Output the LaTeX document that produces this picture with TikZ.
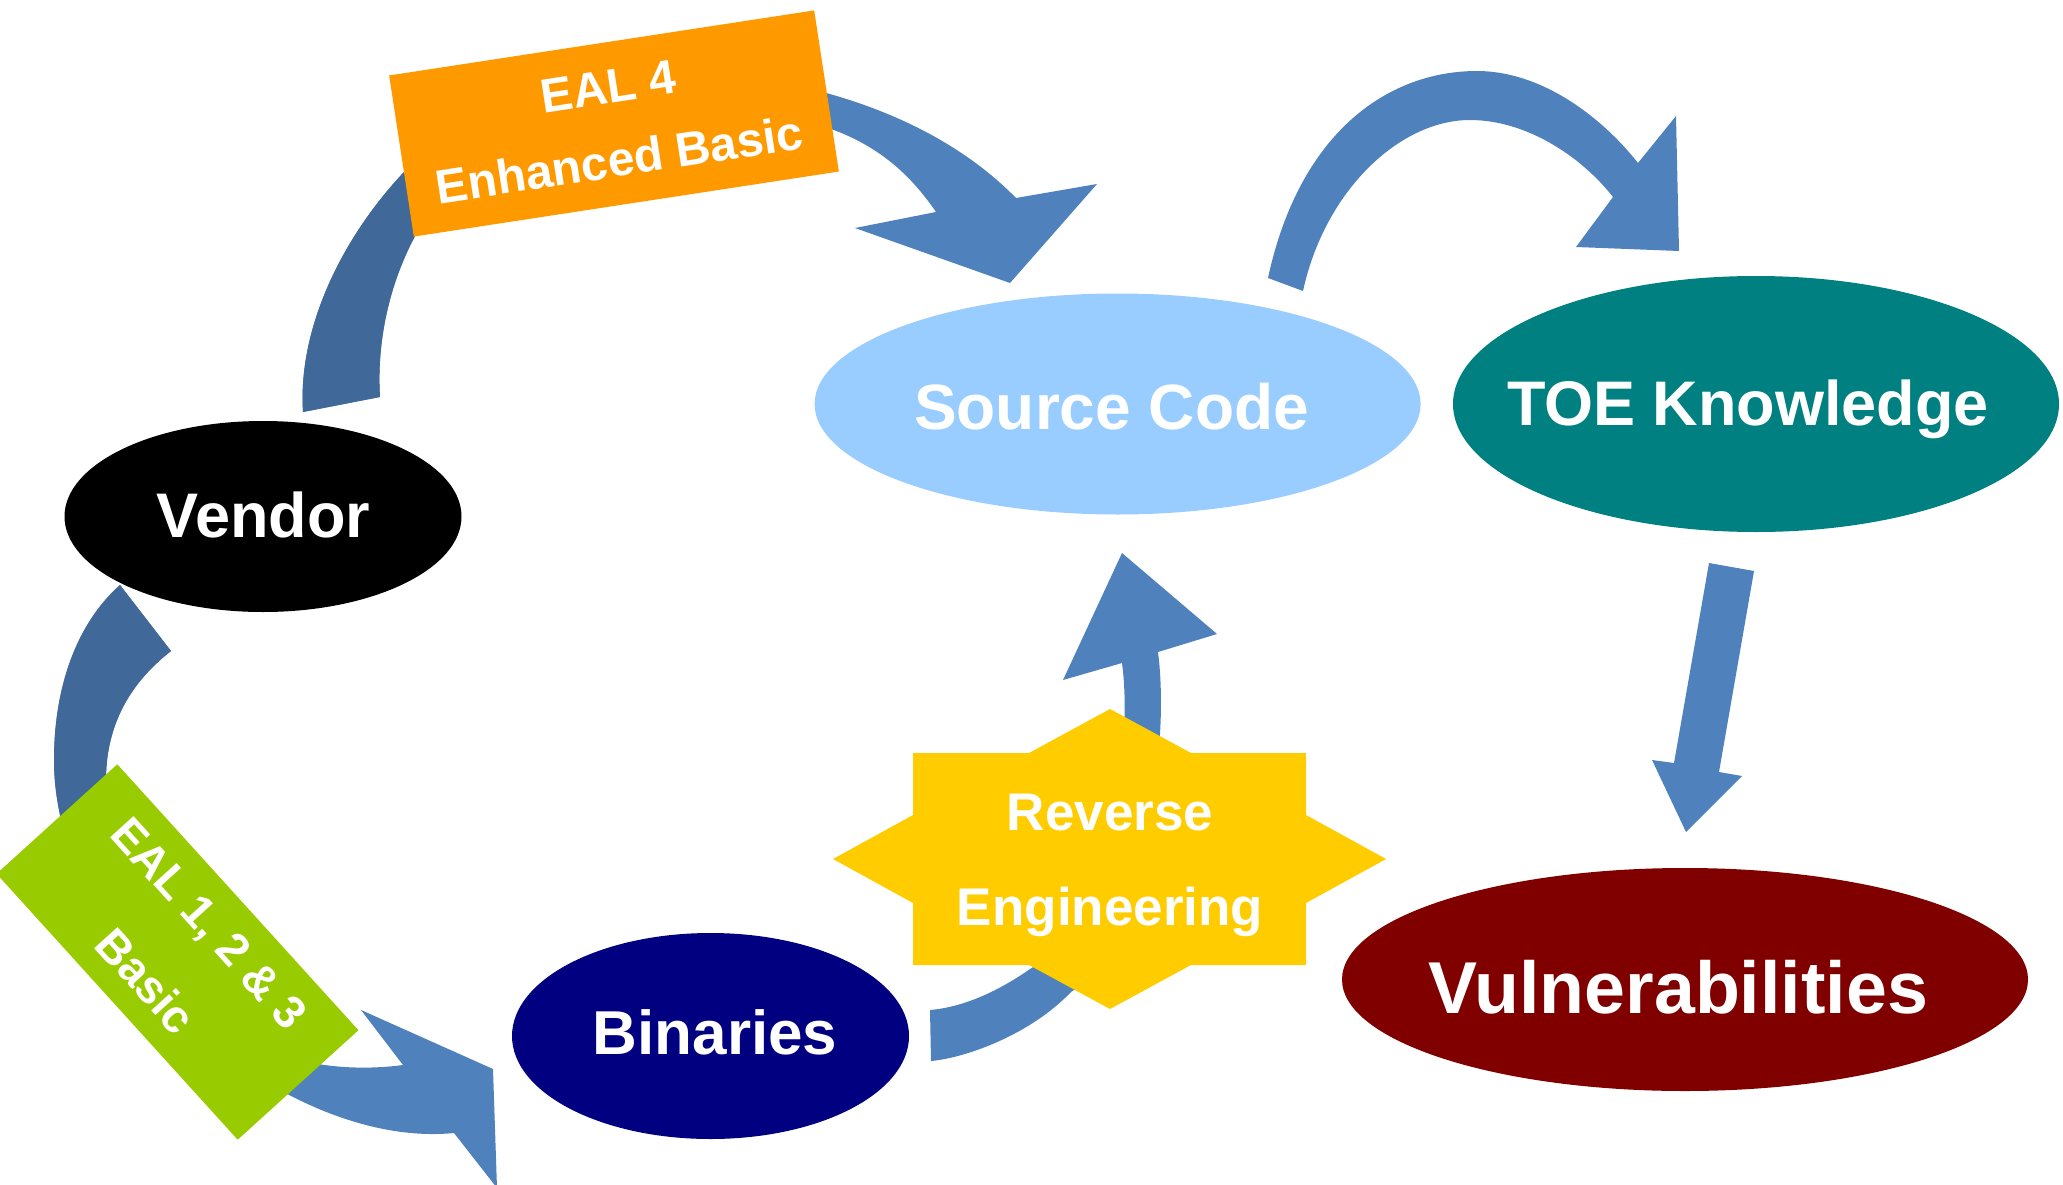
\documentclass[tikz,border=0pt]{standalone}
\usepackage{fontspec}
\setmainfont{Liberation Sans}
\usetikzlibrary{shapes.geometric}
\definecolor{arrowblue}{HTML}{4F81BD}
\definecolor{arrowdark}{HTML}{406898}
\definecolor{eorange}{HTML}{FF9900}
\definecolor{egreen}{HTML}{99CC00}
\definecolor{starY}{HTML}{FFCC00}
\definecolor{srcblue}{HTML}{99CCFF}
\definecolor{toeteal}{HTML}{008080}
\definecolor{vulnred}{HTML}{800000}
\definecolor{binnavy}{HTML}{000080}
\begin{document}
\begin{tikzpicture}[x=1pt,y=-1pt,
  ell/.style={ellipse, draw=none, inner sep=0pt},
  lbl/.style={text=white, anchor=base, inner sep=0pt},
  tag/.style={rectangle, draw=none, inner sep=0pt, text=white, align=center,
              minimum height=163pt}
]
\useasboundingbox (0,0) rectangle (2063,1185);

% ---------- Arrow A : Vendor -> Source Code ----------
\path[save path=\pathA] (303,412) .. controls (293,260) and (450,75) .. (600,70)
  .. controls (780,62) and (930,110) .. (1016,198)
  -- (1097,184) -- (1010,283) -- (855,228) -- (936,212)
  .. controls (880,130) and (800,100) .. (620,112)
  .. controls (450,112) and (372,270) .. (380,397) -- cycle;
\fill[arrowblue, use path=\pathA];
\begin{scope}
  \clip (674,519) -- (554,-272) -- (-39,-181) -- (81,610) -- cycle;
  \fill[arrowdark, use path=\pathA];
\end{scope}

% ---------- Arrow B : Vendor -> Binaries ----------
\path[save path=\pathB] (120,585) .. controls (75,625) and (54,690) .. (54,760)
  .. controls (54,950) and (280,1150) .. (454,1133)
  -- (497,1188) -- (493,1069) -- (361,1010) -- (403,1065)
  .. controls (250,1085) and (106,990) .. (106,780)
  .. controls (106,725) and (130,683) .. (171,651) -- cycle;
\fill[arrowblue, use path=\pathB];
\begin{scope}
  \clip (548,616) -- (212,246) -- (-529,918) -- (-193,1288) -- cycle;
  \fill[arrowdark, use path=\pathB];
\end{scope}

% ---------- Arrow C : Source Code -> TOE Knowledge ----------
\fill[arrowblue] (1268,278) .. controls (1300,130) and (1390,71) .. (1477,71)
  .. controls (1540,71) and (1600,115) .. (1638,163)
  -- (1676,116) -- (1679,251) -- (1576,247) -- (1613,197)
  .. controls (1580,155) and (1525,120) .. (1470,120)
  .. controls (1400,120) and (1325,190) .. (1303,291) -- cycle;

% ---------- Arrow D : TOE Knowledge -> Vulnerabilities ----------
\fill[arrowblue] (1709,563) -- (1754,571) -- (1719,772) -- (1742,776)
  -- (1686,832) -- (1652,760) -- (1674,763) -- cycle;

% ---------- Arrow E : Binaries -> Source Code ----------
\fill[arrowblue] (930,1010) .. controls (965,1007) and (1000,990) .. (1030,969)
  .. controls (1100,930) and (1135,760) .. (1122,663)
  -- (1063,680) -- (1122,553) -- (1217,634) -- (1158,652)
  .. controls (1172,760) and (1135,950) .. (1071,992)
  .. controls (1030,1035) and (965,1058) .. (931,1061) -- cycle;

% ---------- Reverse engineering star ----------
\fill[starY] (1110,709) -- (1191,753) -- (1306,753) -- (1306,815) -- (1386,859)
  -- (1306,903) -- (1306,965) -- (1191,965) -- (1110,1009) -- (1029,965)
  -- (913,965) -- (913,903) -- (833,859) -- (913,815) -- (913,753)
  -- (1029,753) -- cycle;
\node[text=white, align=center, inner sep=0pt,
      font={\fontsize{53}{95}\selectfont\bfseries}] (revtxt) at (1110,865)
  {Reverse\\Engineering};

% ---------- Labels (tags) ----------
\node[tag, fill=eorange, minimum width=430pt, rotate=8.7,
      font={\fontsize{48}{74}\selectfont\bfseries}] (eal4) at (614,123.5)
  {EAL 4\\Enhanced Basic};
\node[tag, fill=egreen, minimum width=359pt, rotate=-47.8,
      font={\fontsize{46}{86}\selectfont\bfseries}] (eal123) at (177.5,952)
  {EAL 1, 2 \& 3\\Basic};

% ---------- Ellipses ----------
\node[ell, fill=black, minimum width=397pt, minimum height=191pt] (vendor) at (263,516.5) {};
\node[ell, fill=srcblue, minimum width=606pt, minimum height=221pt] (src) at (1117.6,404) {};
\node[ell, fill=toeteal, minimum width=606pt, minimum height=256pt] (toe) at (1756,404) {};
\node[ell, fill=vulnred, minimum width=686pt, minimum height=223pt] (vuln) at (1685,979.5) {};
\node[ell, fill=binnavy, minimum width=397pt, minimum height=206pt] (bin) at (710.5,1036) {};

\node[lbl, font={\fontsize{63}{70}\selectfont\bfseries}] (vendortxt) at (263.5,537) {Vendor};
\node[lbl, font={\fontsize{64}{70}\selectfont\bfseries}] (srctxt) at (1111.5,429) {Source Code};
\node[lbl, font={\fontsize{63}{70}\selectfont\bfseries}] (toetxt) at (1748,425) {TOE Knowledge};
\node[lbl, font={\fontsize{73.5}{80}\selectfont\bfseries}] (vulntxt) at (1678,1013) {Vulnerabilities};
\node[lbl, font={\fontsize{62}{70}\selectfont\bfseries}] (bintxt) at (715,1054) {Binaries};
\end{tikzpicture}
\end{document}
